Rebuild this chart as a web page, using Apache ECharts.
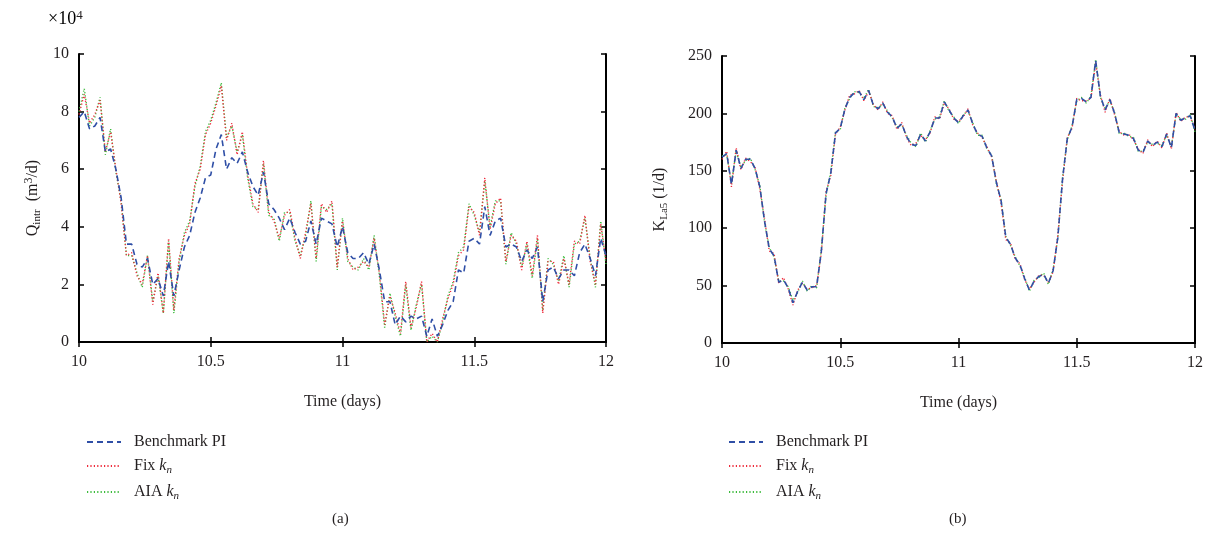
<!DOCTYPE html>
<html><head><meta charset="utf-8">
<script src="https://cdn.jsdelivr.net/npm/echarts@6/dist/echarts.min.js"></script>
<style>html,body{margin:0;padding:0;background:#fff}#c{width:1215px;height:550px}</style>
</head><body><div id="c"></div>
<script>
// ---- data ----
const tStart = 10, tStep = 0.02, nPts = 101;
const xTicks = [10, 10.5, 11, 11.5, 12];
const seriesNames = ['Benchmark PI', 'Fix kn', 'AIA kn'];

// (a) Q_intr, units of 1e4 m3/d
const qBench = [
  7.8,8.0,7.4,7.5,7.8,6.6,6.7,6.0,5.0,3.4,
  3.4,2.7,2.6,2.9,2.0,2.2,1.6,2.8,1.6,2.5,
  3.3,3.7,4.5,5.0,5.7,5.8,6.7,7.2,6.0,6.4,
  6.2,6.6,5.9,5.4,5.1,5.9,4.8,4.6,4.3,3.9,
  4.3,3.8,3.4,3.5,4.2,3.4,4.3,4.2,4.1,3.3,
  4.0,3.1,2.9,2.9,3.1,2.7,3.4,2.5,1.4,1.4,
  0.6,0.9,0.7,0.9,0.8,0.9,0.2,0.8,0.2,0.6,
  1.1,1.4,2.5,2.4,3.5,3.6,3.4,4.7,3.7,4.2,
  4.3,3.3,3.4,3.3,2.8,3.2,2.9,3.3,1.4,2.5,
  2.6,2.2,2.5,2.5,2.3,3.1,3.4,2.9,2.3,3.6,
  3.0];
const qFix = [
  7.9,8.6,7.6,7.9,8.4,6.6,7.3,6.0,4.8,3.0,
  3.1,2.3,2.0,3.0,1.3,2.4,1.0,3.6,1.1,2.9,
  3.7,4.1,5.5,6.0,7.2,7.6,8.2,8.9,7.0,7.6,
  6.5,7.3,5.8,4.8,4.5,6.3,4.5,4.2,3.6,4.4,
  4.6,3.6,2.9,3.8,4.8,2.9,4.8,4.5,4.9,2.6,
  4.2,2.9,2.5,2.6,2.8,2.6,3.6,2.4,0.6,1.6,
  1.0,0.3,2.1,0.5,1.2,2.1,0.0,0.3,0.0,0.8,
  1.5,2.0,3.0,3.2,4.7,4.5,3.7,5.7,3.9,4.8,
  5.0,2.8,3.7,3.5,2.5,3.5,2.3,3.7,1.0,2.8,
  2.8,2.0,2.9,2.0,3.5,3.4,4.4,2.8,2.0,4.1,
  2.8];
const qAIA = [
  8.0,8.8,7.5,7.8,8.5,6.5,7.4,5.9,4.9,3.0,
  3.0,2.4,1.9,3.0,1.4,2.3,1.0,3.5,1.0,2.8,
  3.8,4.2,5.4,6.1,7.3,7.7,8.3,9.0,7.1,7.5,
  6.6,7.2,5.7,4.7,4.6,6.2,4.4,4.3,3.5,4.5,
  4.5,3.5,3.0,3.7,4.9,2.8,4.7,4.6,4.8,2.5,
  4.3,2.8,2.6,2.5,2.9,2.5,3.7,2.3,0.5,1.7,
  0.9,0.2,2.0,0.4,1.3,2.0,0.0,0.2,0.0,0.7,
  1.6,2.1,3.1,3.3,4.8,4.4,3.8,5.6,4.0,4.9,
  4.9,2.7,3.8,3.4,2.6,3.4,2.2,3.6,1.1,2.9,
  2.7,2.1,3.0,1.9,3.4,3.5,4.3,2.9,1.9,4.2,
  2.7];

// (b) K_La5, 1/d
const kBench = [
  162,165,138,168,152,160,160,152,136,106,
  82,76,53,55,48,35,45,53,46,49,
  49,80,130,148,183,187,204,214,218,219,
  212,220,207,204,209,201,197,187,191,180,
  173,172,182,176,184,196,196,210,203,196,
  192,198,203,191,182,180,170,163,140,124,
  92,86,74,68,56,46,54,58,60,52,
  63,92,143,178,188,212,213,210,214,246,
  215,203,212,200,183,182,181,178,168,166,
  176,172,175,171,182,170,200,194,196,198,
  185];
const kFix = [
  160,167,136,170,151,161,158,153,134,108,
  80,78,52,57,47,33,46,52,47,48,
  50,78,132,146,182,188,203,216,217,220,
  211,219,208,203,210,200,198,186,192,179,
  172,174,181,177,183,197,195,209,204,195,
  193,197,204,190,183,179,171,162,141,122,
  90,87,73,69,55,47,53,59,59,53,
  62,94,141,179,187,213,211,211,213,244,
  216,201,213,199,184,181,182,177,169,165,
  177,171,176,170,183,169,201,193,197,197,
  186];
const kAIA = [
  163,164,139,167,153,159,161,151,137,105,
  83,75,54,54,49,37,44,54,45,50,
  48,81,129,149,184,186,205,213,219,218,
  213,221,206,205,208,202,196,188,190,181,
  174,171,183,175,185,195,197,211,202,197,
  191,199,202,192,181,181,169,164,139,125,
  93,85,75,67,57,45,55,57,61,51,
  64,91,144,177,189,211,214,209,215,247,
  214,204,211,201,182,183,180,179,167,167,
  175,173,174,172,181,171,199,195,195,199,
  184];

// ---- build ----
const times = Array.from({length: nPts}, (_, i) => +(tStart + i * tStep).toFixed(2));
const pairs = arr => arr.map((v, i) => [times[i], v]);

const FONT = 'Liberation Serif';
const TXT = '#231f20';
const COLORS = {bench: '#2f4fa6', fix: '#ee2b3b', aia: '#3dbb3d'};

function richBase(size) {
  const fs = size || 16;
  return {
    n: {fontFamily: FONT, fontSize: fs, color: TXT, lineHeight: 20},
    i: {fontFamily: FONT, fontSize: fs, color: TXT, fontStyle: 'italic', lineHeight: 20},
    sub: {fontFamily: FONT, fontSize: 11, color: TXT, fontStyle: 'italic', lineHeight: 14, verticalAlign: 'bottom', padding: [6, 0, 0, 0]},
    subr: {fontFamily: FONT, fontSize: 11, color: TXT, lineHeight: 14, verticalAlign: 'bottom', padding: [6, 0, 0, 0]},
    sup: {fontFamily: FONT, fontSize: 12, color: TXT, lineHeight: 14, verticalAlign: 'top', padding: [0, 0, 6, 0]}
  };
}

function axesFor(g, yMin, yMax, yInt, yName, yGap) {
  const line = {lineStyle: {color: '#000', width: 2}};
  const tick = {show: true, inside: true, length: 5, lineStyle: {color: '#000', width: 1.5}};
  const lab = {fontFamily: FONT, fontSize: 16, color: TXT};
  return {
    x: [
      {gridIndex: g, type: 'value', min: xTicks[0], max: xTicks[xTicks.length - 1], interval: 0.5,
       position: 'bottom', axisLine: line, axisTick: tick, splitLine: {show: false},
       axisLabel: Object.assign({margin: 12, formatter: v => String(v)}, lab),
       name: 'Time (days)', nameLocation: 'middle', nameGap: 52,
       nameTextStyle: {fontFamily: FONT, fontSize: 16, color: TXT}},
      {gridIndex: g, type: 'value', min: xTicks[0], max: xTicks[xTicks.length - 1], interval: 0.5,
       position: 'top', axisLine: line, axisTick: tick, splitLine: {show: false}, axisLabel: {show: false}}
    ],
    y: [
      {gridIndex: g, type: 'value', min: yMin, max: yMax, interval: yInt, position: 'left',
       axisLine: line, axisTick: tick, splitLine: {show: false},
       axisLabel: Object.assign({margin: 10}, lab),
       name: yName, nameLocation: 'middle', nameGap: yGap, nameRotate: 90,
       nameTextStyle: {rich: richBase()}},
      {gridIndex: g, type: 'value', min: yMin, max: yMax, interval: yInt, position: 'right',
       axisLine: line, axisTick: tick, splitLine: {show: false}, axisLabel: {show: false}}
    ]
  };
}

const A = axesFor(0, 0, 10, 2, '{n|Q}{subr|intr}{n|  (m}{sup|3}{n|/d)}', 36);
const B = axesFor(1, 0, 250, 50, '{n|K}{subr|La5}{n| (1/d)}', 52);

function mkSeries(name, data, xi, yi, kind) {
  const isBench = kind === 'bench';
  return {
    name, type: 'line', xAxisIndex: xi, yAxisIndex: yi, data,
    symbol: 'none', showSymbol: false, sampling: null, animation: false,
    z: isBench ? 5 : (kind === 'fix' ? 4 : 3),
    itemStyle: {color: COLORS[kind]},
    lineStyle: isBench
      ? {color: COLORS[kind], width: 1.6, type: [6, 4]}
      : {color: COLORS[kind], width: 1.4, type: [1.2, 2.2]}
  };
}

function legendFmt(name) {
  if (name === 'Fix kn') return '{n|Fix }{i|k}{sub|n}';
  if (name === 'AIA kn') return '{n|AIA }{i|k}{sub|n}';
  return '{n|' + name + '}';
}
function mkLegend(left) {
  return {
    orient: 'vertical', left: left, top: 429, itemWidth: 34, itemHeight: 14, itemGap: 8,
    data: seriesNames, selectedMode: false, formatter: legendFmt,
    itemStyle: {opacity: 0, borderWidth: 0},
    textStyle: {padding: [0, 0, 0, 8], rich: richBase()}
  };
}

const option = {
  animation: false,
  backgroundColor: '#fff',
  grid: [
    {left: 79, top: 54, width: 527, height: 288, show: false},
    {left: 722, top: 56, width: 473, height: 287, show: false}
  ],
  xAxis: [...A.x, ...B.x],
  yAxis: [...A.y, ...B.y],
  legend: [mkLegend(81), mkLegend(723)],
  series: [
    mkSeries('AIA kn', pairs(qAIA), 0, 0, 'aia'),
    mkSeries('Fix kn', pairs(qFix), 0, 0, 'fix'),
    mkSeries('Benchmark PI', pairs(qBench), 0, 0, 'bench'),
    mkSeries('AIA kn', pairs(kAIA), 2, 2, 'aia'),
    mkSeries('Fix kn', pairs(kFix), 2, 2, 'fix'),
    mkSeries('Benchmark PI', pairs(kBench), 2, 2, 'bench')
  ],
  graphic: [
    {type: 'text', left: 48, top: 9, style: {text: '{n|×10}{sup|4}', rich: Object.assign(richBase(18), {sup: {fontFamily: FONT, fontSize: 13, fill: TXT, color: TXT, lineHeight: 14, verticalAlign: 'top', padding: [0, 0, 8, 0]}})}},
    {type: 'text', left: 332, top: 512, style: {text: '(a)', fontFamily: FONT, fontSize: 15, fill: TXT}},
    {type: 'text', left: 949, top: 512, style: {text: '(b)', fontFamily: FONT, fontSize: 15, fill: TXT}}
  ]
};

const chart = echarts.init(document.getElementById('c'), null, {renderer: 'canvas'});
chart.setOption(option);
</script>
</body></html>
